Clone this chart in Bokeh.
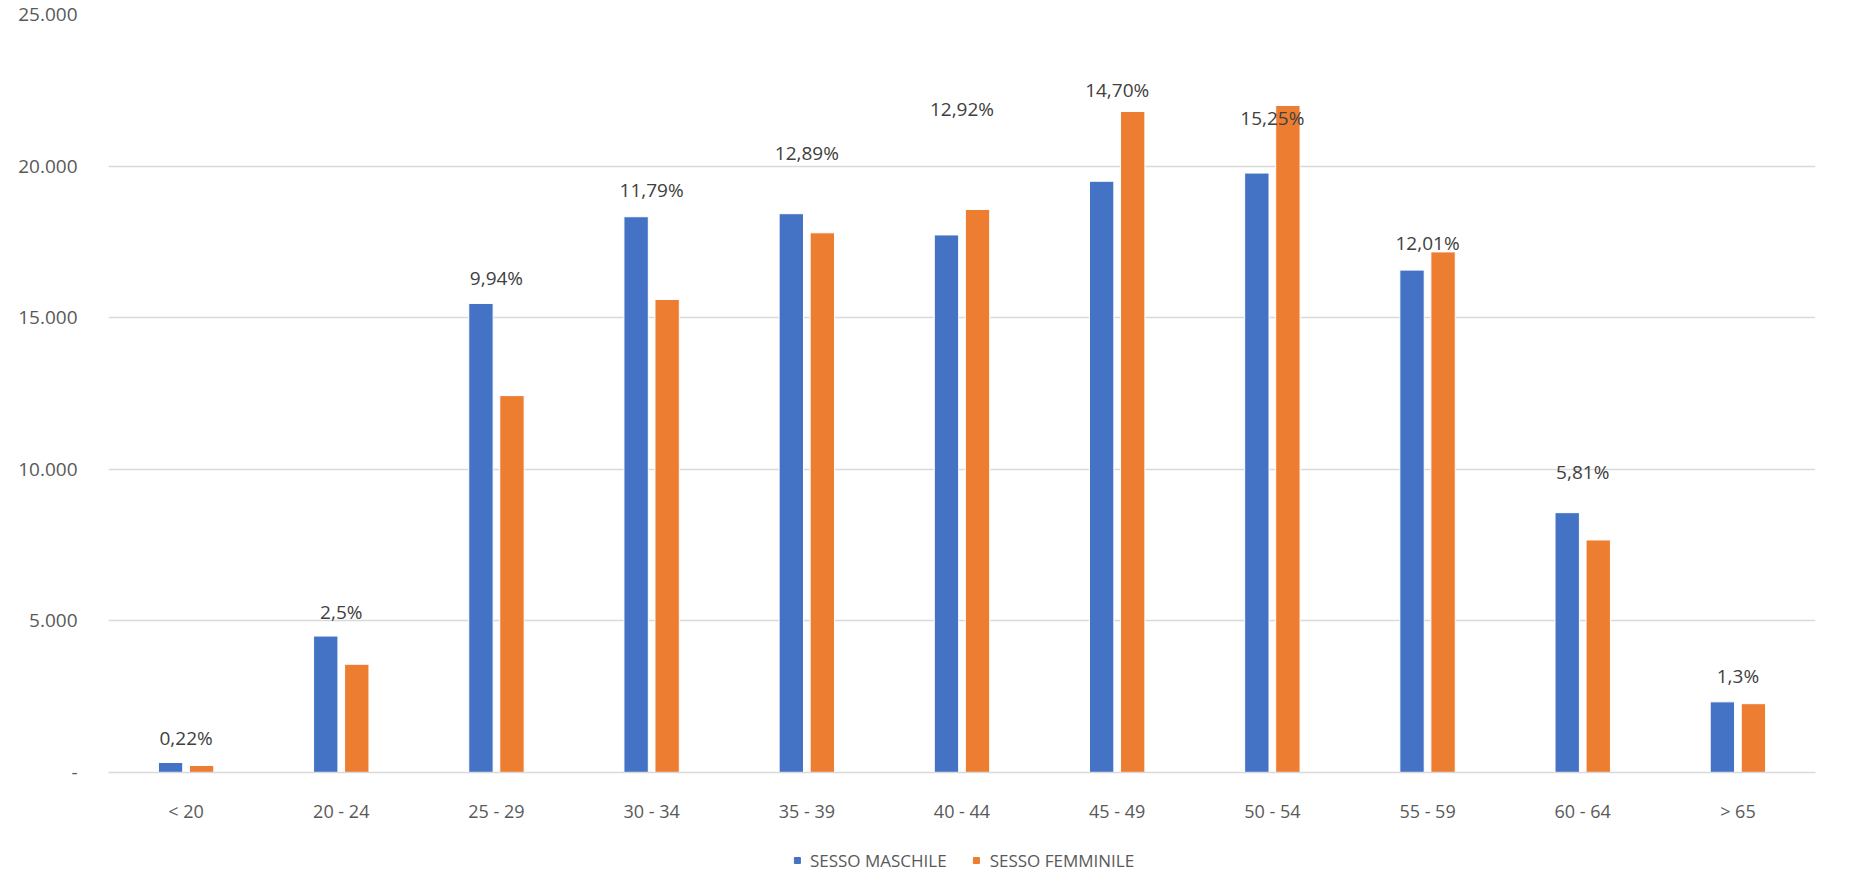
from bokeh.plotting import figure
from bokeh.layouts import column
from bokeh.models import ColumnDataSource, Legend, LegendItem, CustomJSTickFormatter, FixedTicker, Range1d, FactorRange
from bokeh.transform import dodge
from bokeh.core.properties import value
from bokeh.embed import file_html
from bokeh.resources import INLINE

categories = ["< 20", "20 - 24", "25 - 29", "30 - 34", "35 - 39", "40 - 44", "45 - 49", "50 - 54", "55 - 59", "60 - 64", "> 65"]
maschile = [330, 4500, 15470, 18330, 18430, 17730, 19500, 19770, 16570, 8570, 2330]
femminile = [230, 3570, 12430, 15600, 17800, 18570, 21800, 22000, 17170, 7670, 2270]
pct_labels = ["0,22%", "2,5%", "9,94%", "11,79%", "12,89%", "12,92%", "14,70%", "15,25%", "12,01%", "5,81%", "1,3%"]
label_y = [1130, 5300, 16300, 19200, 20430, 21870, 22500, 21570, 17470, 9900, 3170]
y_ticks = [0, 5000, 10000, 15000, 20000, 25000]
series_names = ["SESSO MASCHILE", "SESSO FEMMINILE"]
series_colors = ["#4472C4", "#ED7D31"]

src = ColumnDataSource(dict(cat=categories, m=maschile, f=femminile, lab=pct_labels, ly=label_y))

FONT = "Open Sans"
p = figure(x_range=FactorRange(*categories, range_padding=0), y_range=Range1d(0, 25000),
           width=1835, height=840, output_backend="svg", toolbar_location=None,
           min_border_left=108, min_border_right=20, min_border_top=14, min_border_bottom=68)
p.outline_line_color = None
p.x_range.factor_padding = 0
p.vbar(x=dodge("cat", -0.1, range=p.x_range), top="m", width=0.157, source=src,
       fill_color=series_colors[0], line_color="white", line_width=1)
p.vbar(x=dodge("cat", 0.1, range=p.x_range), top="f", width=0.157, source=src,
       fill_color=series_colors[1], line_color="white", line_width=1)
p.text(x="cat", y="ly", text="lab", source=src, text_align="center", text_baseline="middle",
       text_font=value(FONT), text_font_size="19px", text_color="#404040")

p.yaxis.ticker = FixedTicker(ticks=y_ticks)
p.yaxis.formatter = CustomJSTickFormatter(code="""
if (tick == 0) return '-';
return tick.toString().replace(/\\B(?=(\\d{3})+(?!\\d))/g, '.');
""")
p.yaxis.axis_line_color = None
p.yaxis.major_tick_line_color = None
p.yaxis.minor_tick_line_color = None
p.yaxis.major_label_text_font = FONT
p.yaxis.major_label_text_font_size = "19px"
p.yaxis.major_label_text_color = "#595959"
p.yaxis.major_label_standoff = 25
p.ygrid.grid_line_color = "#d9d9d9"
p.ygrid.grid_line_width = 1.5
p.ygrid.ticker = FixedTicker(ticks=y_ticks)
p.xgrid.grid_line_color = None
p.xaxis.axis_line_color = "#d9d9d9"
p.xaxis.axis_line_width = 1.5
p.xaxis.major_tick_line_color = None
p.xaxis.minor_tick_line_color = None
p.xaxis.major_label_text_font = FONT
p.xaxis.major_label_text_font_size = "18px"
p.xaxis.major_label_text_color = "#595959"
p.xaxis.major_label_standoff = 20

lf = figure(width=1835, height=40, output_backend="svg", toolbar_location=None,
            x_range=Range1d(0, 1), y_range=Range1d(0, 1), min_border=0)
lf.axis.visible = False
lf.grid.visible = False
lf.outline_line_color = None
items = []
for name, col in zip(series_names, series_colors):
    r = lf.scatter([-10], [-10], marker="square", size=22, fill_color=col, line_color=col)
    items.append(LegendItem(label=name, renderers=[r]))
legend = Legend(items=items, orientation="horizontal", location="center", border_line_color=None,
                background_fill_alpha=0, label_text_font=FONT, label_text_font_size="17px",
                label_text_color="#595959", glyph_width=15, glyph_height=15, spacing=22,
                label_standoff=6, margin=0, padding=0)
lf.add_layout(legend, "center")

open("out.html", "w").write(file_html(column(p, lf, spacing=0), INLINE))
